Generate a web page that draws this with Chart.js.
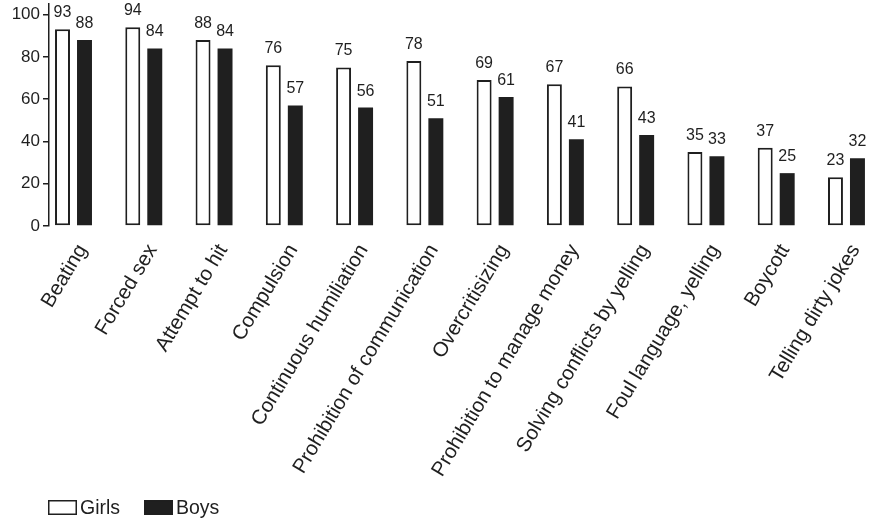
<!DOCTYPE html>
<html>
<head>
<meta charset="utf-8">
<script src="https://cdn.jsdelivr.net/npm/chart.js@4.4.1/dist/chart.umd.min.js"></script>
<style>
  html, body { margin: 0; padding: 0; background: #ffffff; }
  canvas { display: block; }
</style>
</head>
<body>
<canvas id="chart" width="870" height="521"></canvas>
<script>
// Categories and percentages per group
const categories = [
  'Beating', 'Forced sex', 'Attempt to hit', 'Compulsion',
  'Continuous humiliation', 'Prohibition of communication', 'Overcritisizing',
  'Prohibition to manage money', 'Solving conflicts by yelling',
  'Foul language, yelling', 'Boycott', 'Telling dirty jokes'
];
const girls = [93, 94, 88, 76, 75, 78, 69, 67, 66, 35, 37, 23];
const boys  = [88, 84, 84, 57, 56, 51, 61, 41, 43, 33, 25, 32];
const yTicks = [0, 20, 40, 60, 80, 100];
const seriesNames = ['Girls', 'Boys'];

const FONT = "'Liberation Sans', Arial, sans-serif";
const INK = '#1f1f1f';

// Value labels above each bar
const valueLabels = {
  id: 'valueLabels',
  afterDatasetsDraw(chart) {
    const ctx = chart.ctx;
    ctx.save();
    ctx.font = '16px ' + FONT;
    ctx.fillStyle = INK;
    ctx.textAlign = 'center';
    ctx.textBaseline = 'alphabetic';
    chart.data.datasets.forEach((ds, i) => {
      chart.getDatasetMeta(i).data.forEach((bar, j) => {
        ctx.fillText(String(ds.data[j].y), bar.x, bar.y - 12);
      });
    });
    ctx.restore();
  }
};

// Legend in the lower left corner
const boxLegend = {
  id: 'boxLegend',
  afterDraw(chart) {
    const ctx = chart.ctx;
    const xs = [48, 144];
    ctx.save();
    ctx.font = '19.5px ' + FONT;
    ctx.textBaseline = 'middle';
    chart.data.datasets.forEach((ds, i) => {
      const x = xs[i], y = 500;
      ctx.fillStyle = ds.backgroundColor;
      ctx.fillRect(x, y, 29, 15);
      ctx.strokeStyle = ds.borderColor;
      ctx.lineWidth = 1.5;
      ctx.strokeRect(x + 0.75, y + 0.75, 27.5, 13.5);
      ctx.fillStyle = INK;
      ctx.fillText(ds.label, x + 32, y + 8.5);
    });
    ctx.restore();
  }
};

const toPoints = arr => arr.map((v, i) => ({ x: i, y: v }));

new Chart(document.getElementById('chart'), {
  type: 'bar',
  data: {
    datasets: [
      {
        label: seriesNames[0],
        data: toPoints(girls),
        backgroundColor: '#ffffff',
        borderColor: INK,
        borderWidth: 2,
        borderSkipped: false
      },
      {
        label: seriesNames[1],
        data: toPoints(boys),
        backgroundColor: INK,
        borderColor: INK,
        borderWidth: 0
      }
    ]
  },
  options: {
    responsive: false,
    animation: false,
    events: [],
    categoryPercentage: 0.626,
    barPercentage: 0.68,
    layout: { padding: { top: 4, right: 4, left: 0, bottom: 0 } },
    plugins: {
      legend: { display: false },
      tooltip: { enabled: false }
    },
    scales: {
      x: {
        type: 'linear',
        offset: false,
        min: -0.3487,
        max: 11.278,
        afterBuildTicks: s => { s.ticks = categories.map((_, i) => ({ value: i })); },
        afterFit: s => {
          s.height = 521 - 226;
          s.paddingLeft = 0; s.paddingRight = 0;
        },
        grid: { display: false },
        border: { display: false },
        ticks: {
          autoSkip: false,
          minRotation: 59,
          maxRotation: 59,
          padding: 6,
          labelOffset: 9,
          color: INK,
          font: { family: FONT, size: 20.5 },
          callback: v => categories[v]
        }
      },
      y: {
        min: 0,
        max: 105,
        afterBuildTicks: s => { s.ticks = yTicks.map(v => ({ value: v })); },
        afterFit: s => {
          s.width = 49;
          s.paddingTop = 0; s.paddingBottom = 0;
        },
        grid: {
          display: true,
          drawOnChartArea: false,
          drawTicks: true,
          tickLength: 6,
          color: INK,
          lineWidth: 1.5
        },
        border: { display: true, color: INK, width: 1.5 },
        ticks: {
          padding: 3,
          color: INK,
          font: { family: FONT, size: 17 }
        }
      }
    }
  },
  plugins: [valueLabels, boxLegend]
});
</script>
</body>
</html>
